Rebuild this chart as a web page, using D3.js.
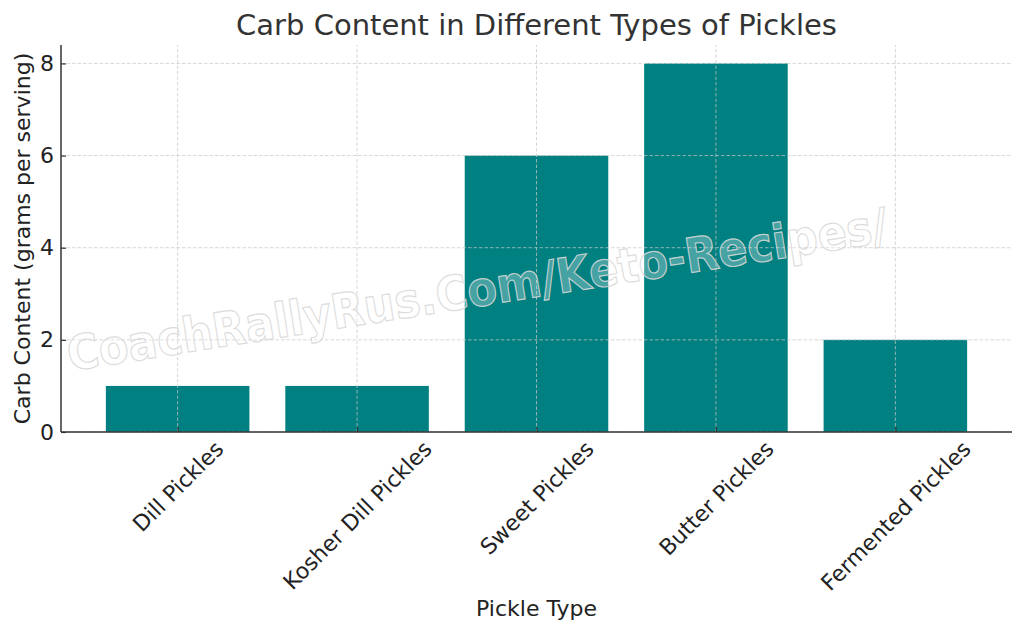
<!DOCTYPE html>
<html>
<head>
<meta charset="utf-8">
<script src="https://cdn.jsdelivr.net/npm/d3@7"></script>
<style>
  body { margin: 0; background: #fff; }
  svg { display: block; }
  text { font-family: "DejaVu Sans", sans-serif; }
</style>
</head>
<body>
<svg id="chart" width="1024" height="634"></svg>
<script>
const categories = ["Dill Pickles", "Kosher Dill Pickles", "Sweet Pickles", "Butter Pickles", "Fermented Pickles"];
const carbValues = [1, 1, 6, 8, 2];
const yTicks = [0, 2, 4, 6, 8];
const titleText = "Carb Content in Different Types of Pickles";
const xLabelText = "Pickle Type";
const yLabelText = "Carb Content (grams per serving)";
const watermarkText = "CoachRallyRus.Com/Keto-Recipes/";

const W = 1024, H = 634;
const margin = { left: 61, right: 12, top: 45, bottom: 202 };
const x0 = margin.left, x1 = W - margin.right;
const y0 = H - margin.bottom, y1 = margin.top;
const FS = 22;

const svg = d3.select("#chart");

const x = d3.scaleLinear().domain([-0.65, categories.length - 1 + 0.65]).range([x0, x1]);
const y = d3.scaleLinear().domain([0, 8.4]).range([y0, y1]);
const barW = (x(0.8) - x(0));

// bars
svg.append("g").selectAll("rect").data(carbValues).join("rect")
  .attr("x", (d, i) => x(i) - barW / 2)
  .attr("width", barW)
  .attr("y", d => y(d))
  .attr("height", d => y(0) - y(d))
  .attr("fill", "#008080");

// grid (on top of bars)
const grid = svg.append("g").attr("stroke", "#c8c8c8").attr("stroke-width", 0.8).attr("stroke-dasharray", "3.5,2").attr("opacity", 0.9);
grid.selectAll("line.h").data(yTicks).join("line")
  .attr("x1", x0).attr("x2", x1).attr("y1", d => y(d)).attr("y2", d => y(d));
grid.selectAll("line.v").data(categories).join("line")
  .attr("x1", (d, i) => x(i)).attr("x2", (d, i) => x(i)).attr("y1", y0).attr("y2", y1);

// axes
const yAxis = d3.axisLeft(y).tickValues(yTicks).tickFormat(d3.format("d")).tickSizeInner(-5).tickSizeOuter(0).tickPadding(7);
const gy = svg.append("g").attr("transform", `translate(${x0},0)`).call(yAxis);
gy.select(".domain").attr("stroke", "#333").attr("stroke-width", 1.5).attr("d", `M0,${y0}V${y1}`);
gy.selectAll(".tick line").attr("stroke", "#333").attr("stroke-width", 1.2);
gy.selectAll(".tick text").attr("font-size", FS).attr("fill", "#222").attr("font-family", "DejaVu Sans");

const xAxis = d3.axisBottom(x).tickValues(d3.range(categories.length)).tickFormat(i => categories[i]).tickSizeInner(-5).tickSizeOuter(0);
const gx = svg.append("g").attr("transform", `translate(0,${y0})`).call(xAxis);
gx.select(".domain").attr("stroke", "#333").attr("stroke-width", 1.5).attr("d", `M${x0},0H${x1}`);
gx.selectAll(".tick line").attr("stroke", "#333").attr("stroke-width", 1.2);
gx.selectAll(".tick text")
  .attr("font-size", FS).attr("fill", "#222").attr("font-family", "DejaVu Sans")
  .attr("text-anchor", "middle").attr("dy", null).attr("y", 0)
  .attr("dominant-baseline", "central")
  .each(function () {
    const t = d3.select(this);
    const w = this.getComputedTextLength();
    const h = FS * 0.9;
    const off = 6 + (w + h) * Math.SQRT1_2 / 2;
    t.attr("transform", `translate(0,${off}) rotate(-45)`);
  });

// labels
svg.append("text").attr("x", (x0 + x1) / 2).attr("y", 35).attr("text-anchor", "middle")
  .attr("font-size", 29).attr("fill", "#333").text(titleText);
svg.append("text").attr("x", (x0 + x1) / 2).attr("y", 616).attr("text-anchor", "middle")
  .attr("font-size", FS).attr("fill", "#222").text(xLabelText);
svg.append("text").attr("transform", `translate(30,${(y0 + y1) / 2}) rotate(-90)`).attr("text-anchor", "middle")
  .attr("font-size", FS).attr("fill", "#222").text(yLabelText);

// watermark
svg.append("text")
  .attr("transform", "translate(70,371) rotate(-9)")
  .attr("font-size", 48).attr("font-weight", "bold")
  .attr("textLength", 830).attr("lengthAdjust", "spacingAndGlyphs")
  .attr("fill", "#ffffff").attr("fill-opacity", 0.3)
  .attr("stroke", "#d8d8d8").attr("stroke-width", 1.2).attr("stroke-opacity", 0.9)
  .text(watermarkText);
</script>
</body>
</html>
